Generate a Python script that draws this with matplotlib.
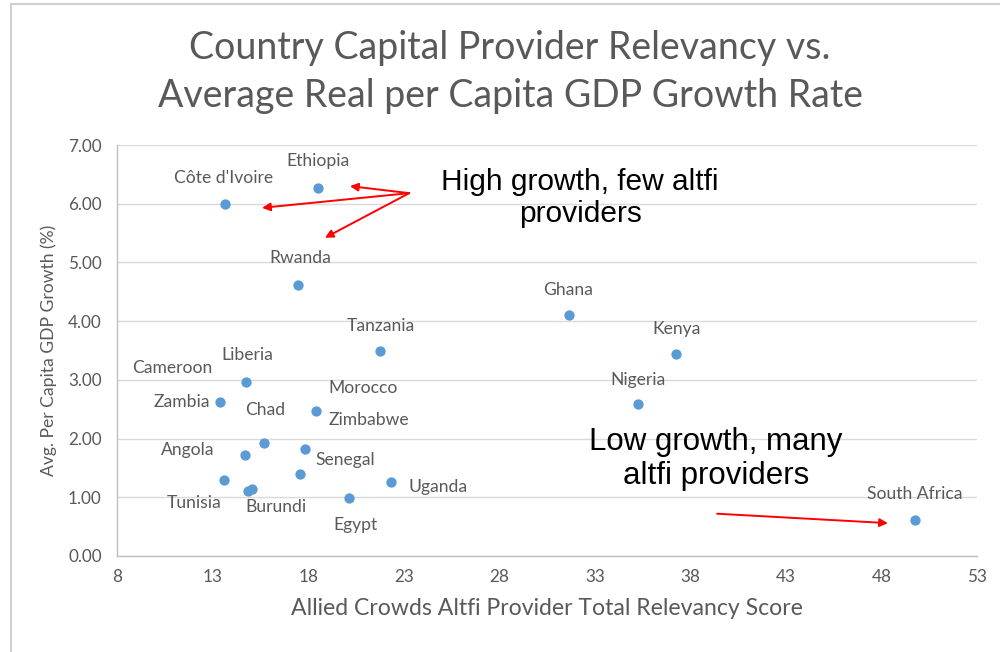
import matplotlib
matplotlib.use("Agg")
import matplotlib.pyplot as plt
from matplotlib.lines import Line2D

# ---- data ----
countries = ["Côte d'Ivoire", "Ethiopia", "Rwanda", "Ghana", "Kenya", "Nigeria",
             "Tanzania", "Liberia", "Zambia", "Morocco", "Chad", "Angola",
             "Zimbabwe", "Senegal", "Tunisia", "Burundi", "Cameroon", "Uganda",
             "Egypt", "South Africa"]
relevancy = [13.65, 18.52, 17.47, 31.65, 37.25, 35.26,
             21.76, 14.75, 13.39, 18.41, 15.69, 14.70,
             17.84, 17.58, 13.60, 15.06, 14.85, 22.34,
             20.14, 49.76]
growth = [6.00, 6.27, 4.62, 4.10, 3.44, 2.59,
          3.49, 2.96, 2.62, 2.47, 1.92, 1.72,
          1.82, 1.40, 1.29, 1.14, 1.11, 1.26,
          0.99, 0.61]
x_ticks = [8, 13, 18, 23, 28, 33, 38, 43, 48, 53]
y_ticks = [0, 1, 2, 3, 4, 5, 6, 7]

# label offsets in pixels (dx, dy upward)
label_offsets_px = [(-1, 26), (0, 27), (2, 27), (-1, 25), (1, 25), (0, 24),
                    (1, 25), (1, 27), (-38, 0), (47, 23), (1, 33), (-57, 5),
                    (64, 29), (45, 14), (-30, -23), (24, -18), (-76, 123),
                    (47, -5), (6, -27), (0, 26)]

W, H = 1000, 652
fig = plt.figure(figsize=(W / 100, H / 100), dpi=100)
fig.patch.set_facecolor("white")
ax = fig.add_axes([117 / W, 1 - 556 / H, (977 - 117) / W, (556 - 145) / H])

gray = "#595959"
font = ["Lato", "DejaVu Sans"]
arial = ["Liberation Sans", "DejaVu Sans"]

ax.scatter(relevancy, growth, s=55, color="#5B9BD5", zorder=3, linewidths=0)

ax.set_xlim(8, 53)
ax.set_ylim(0, 7)
ax.set_xticks(x_ticks)
ax.set_yticks(y_ticks)
ax.set_xticklabels([str(t) for t in x_ticks], family=font, fontsize=12.3, color=gray)
ax.set_yticklabels([f"{t:.2f}" for t in y_ticks], family=font, fontsize=12.3, color=gray)
ax.tick_params(axis="both", length=0)
ax.tick_params(axis="y", pad=11)
ax.tick_params(axis="x", pad=9)
ax.grid(axis="y", color="#D9D9D9", linewidth=1)
ax.set_axisbelow(True)
for s in ["top", "right"]:
    ax.spines[s].set_visible(False)
for s in ["left", "bottom"]:
    ax.spines[s].set_color("#BFBFBF")
    ax.spines[s].set_linewidth(1)

for name, xv, yv, (dx, dy) in zip(countries, relevancy, growth, label_offsets_px):
    ax.annotate(name, (xv, yv), xytext=(dx * 0.72, dy * 0.72), textcoords="offset points",
                ha="center", va="center", fontsize=12.6, color=gray, family=font)

ax.set_xlabel("Allied Crowds Altfi Provider Total Relevancy Score", family=font,
              fontsize=16.6, color=gray, labelpad=10)
ax.set_ylabel("Avg. Per Capita GDP Growth (%)", family=font, fontsize=12.6,
              color=gray, labelpad=8)

fig.text(510 / W, 1 - 72 / H, "Country Capital Provider Relevancy vs.\nAverage Real per Capita GDP Growth Rate",
         ha="center", va="center", fontsize=27, color=gray, family=font, linespacing=1.42,
         multialignment="center")

# annotations
arrow_kw = dict(arrowstyle="-|>", color="#FF0000", lw=1.4, mutation_scale=12, shrinkA=0, shrinkB=0)
tail = (23.29, 6.18)
for head in [(20.19, 6.30), (15.59, 5.93), (18.88, 5.42)]:
    ax.annotate("", xy=head, xytext=tail, arrowprops=arrow_kw, annotation_clip=False)
ax.annotate("", xy=(48.34, 0.56), xytext=(39.40, 0.72), arrowprops=arrow_kw)

ax.text(32.23, 6.09, "High growth, few altfi\nproviders", ha="center", va="center",
        multialignment="center", fontsize=21.5, family=arial, color="black", linespacing=1.18)
ax.text(39.35, 1.65, "Low growth, many\naltfi providers", ha="center", va="center",
        multialignment="center", fontsize=22.5, family=arial, color="black", linespacing=1.16)

# frame lines of the screenshot
fig.add_artist(Line2D([11 / W, 1], [1 - 4 / H, 1 - 4 / H], color="#D0D0D0", lw=1.5))
fig.add_artist(Line2D([11 / W, 11 / W], [0, 1 - 4 / H], color="#D0D0D0", lw=1.5))

fig.savefig("out.png", dpi=100, facecolor="white")
